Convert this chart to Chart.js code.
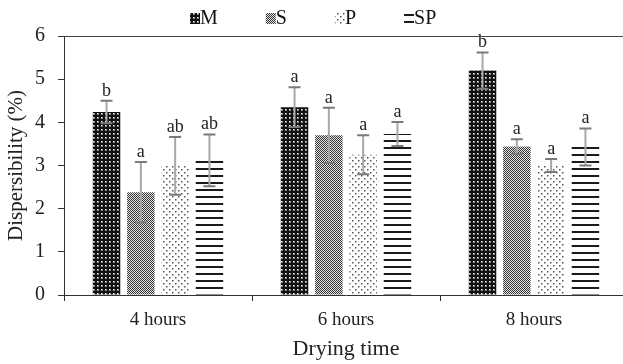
<!DOCTYPE html>
<html>
<head>
<meta charset="utf-8">
<script src="https://cdn.jsdelivr.net/npm/chart.js@4/dist/chart.umd.min.js"></script>
<style>
  html, body { margin: 0; padding: 0; background: #fff; overflow: hidden; }
  #wrap { width: 628px; height: 364px; }
</style>
</head>
<body>
<div id="wrap"><canvas id="c" width="628" height="364"></canvas></div>
<script>
// ---- data ----
const categories = ["4 hours", "6 hours", "8 hours"];
const seriesNames = ["M", "S", "P", "SP"];
const valuesM  = [4.24, 4.35, 5.20];
const valuesS  = [2.38, 3.70, 3.44];
const valuesP  = [2.99, 3.25, 3.00];
const valuesSP = [3.12, 3.73, 3.43];
const errM  = [0.26, 0.46, 0.42];
const errS  = [0.70, 0.64, 0.17];
const errP  = [0.67, 0.45, 0.15];
const errSP = [0.60, 0.28, 0.43];
const lettersM  = ["b", "a", "b"];
const lettersS  = ["a", "a", "a"];
const lettersP  = ["ab", "a", "a"];
const lettersSP = ["ab", "a", "a"];
const yTicks = [0, 1, 2, 3, 4, 5, 6];

// ---- patterns ----
function makePattern(w, h, draw) {
  const c = document.createElement('canvas');
  c.width = w; c.height = h;
  const g = c.getContext('2d');
  draw(g);
  return document.getElementById('c').getContext('2d').createPattern(c, 'repeat');
}
const patM = makePattern(4, 4, g => {
  g.fillStyle = '#111'; g.fillRect(0, 0, 4, 4);
  g.fillStyle = '#8a8a8a'; g.fillRect(1, 1, 2, 2);
  g.fillStyle = '#fff'; g.fillRect(1, 1, 1, 1);
});
const patS = makePattern(2, 2, g => {
  g.fillStyle = '#e6e6e6'; g.fillRect(0, 0, 2, 2);
  g.fillStyle = '#333'; g.fillRect(0, 0, 1, 1); g.fillRect(1, 1, 1, 1);
});
const patP = makePattern(6, 6, g => {
  g.fillStyle = '#fff'; g.fillRect(0, 0, 6, 6);
  g.fillStyle = '#555'; g.fillRect(1, 1, 1.5, 1.5); g.fillRect(4, 4, 1.5, 1.5);
});
const patSP = makePattern(4, 7, g => {
  g.fillStyle = '#fff'; g.fillRect(0, 0, 4, 7);
  g.fillStyle = '#1a1a1a'; g.fillRect(0, 0, 4, 2);
});

const valueSets = [valuesM, valuesS, valuesP, valuesSP];
const errSets = [errM, errS, errP, errSP];
const letterSets = [lettersM, lettersS, lettersP, lettersSP];
const patterns = [patM, patS, patP, patSP];

const datasets = seriesNames.map((name, i) => ({
  label: name,
  data: valueSets[i],
  errors: errSets[i],
  letters: letterSets[i],
  backgroundColor: patterns[i],
  borderWidth: 0,
  categoryPercentage: 0.73,
  barPercentage: 0.8
}));

const serif = "'Liberation Serif', 'Times New Roman', serif";

const errorBarPlugin = {
  id: 'errorBars',
  afterDatasetsDraw(chart) {
    const ctx = chart.ctx;
    const y = chart.scales.y;
    chart.data.datasets.forEach((ds, di) => {
      const meta = chart.getDatasetMeta(di);
      meta.data.forEach((bar, i) => {
        const v = ds.data[i], e = ds.errors[i];
        const top = y.getPixelForValue(v + e);
        const bot = y.getPixelForValue(v - e);
        const x = bar.x;
        ctx.save();
        ctx.strokeStyle = '#a8a8a8';
        ctx.lineWidth = 2;
        ctx.beginPath(); ctx.moveTo(x, top); ctx.lineTo(x, bot); ctx.stroke();
        ctx.strokeStyle = '#7a7a7a';
        ctx.beginPath();
        ctx.moveTo(x - 6, top); ctx.lineTo(x + 6, top);
        ctx.moveTo(x - 6, bot); ctx.lineTo(x + 6, bot);
        ctx.stroke();
        ctx.fillStyle = '#222';
        ctx.font = "18px " + serif;
        ctx.textAlign = 'center';
        ctx.textBaseline = 'alphabetic';
        ctx.fillText(ds.letters[i], x, top - 5);
        ctx.restore();
      });
    });
    // top frame line
    const a = chart.chartArea;
    ctx.save();
    ctx.strokeStyle = '#444';
    ctx.lineWidth = 1;
    ctx.beginPath();
    ctx.moveTo(a.left, a.top + 0.5); ctx.lineTo(a.right, a.top + 0.5);
    ctx.stroke();
    ctx.restore();
  }
};

// compact legend (box immediately followed by label), drawn from the dataset list
const legendPlugin = {
  id: 'compactLegend',
  afterDraw(chart) {
    const ctx = chart.ctx;
    ctx.save();
    ctx.font = "20px " + serif;
    ctx.textBaseline = 'middle';
    ctx.textAlign = 'left';
    let x = 190;
    const cy = 18;
    chart.data.datasets.forEach(ds => {
      ctx.fillStyle = ds.backgroundColor;
      ctx.fillRect(x, cy - 5, 10, 11);
      ctx.fillStyle = '#111';
      ctx.fillText(ds.label, x + 10, cy + 1);
      x += 10 + ctx.measureText(ds.label).width + 48;
    });
    ctx.restore();
  }
};

new Chart(document.getElementById('c'), {
  type: 'bar',
  data: { labels: categories, datasets },
  options: {
    responsive: false,
    animation: false,
    layout: { padding: { left: 0, right: 0, top: 36, bottom: 0 } },
    plugins: {
      legend: { display: false },
      tooltip: { enabled: false }
    },
    scales: {
      x: {
        grid: { display: true, drawOnChartArea: false, offset: true, tickLength: 6, color: '#333' },
        border: { color: '#333', width: 1 },
        ticks: { color: '#222', font: { family: serif, size: 19 }, padding: 8 },
        title: { display: true, text: 'Drying time', color: '#222', font: { family: serif, size: 22 }, padding: { top: 2, bottom: 2 } },
        afterFit(s) { s.height = 69; }
      },
      y: {
        min: 0, max: 6,
        afterBuildTicks(s) { s.ticks = yTicks.map(v => ({ value: v })); },
        grid: { display: true, drawOnChartArea: false, tickLength: 6, color: '#333' },
        border: { color: '#333', width: 1 },
        ticks: { color: '#222', font: { family: serif, size: 20 }, padding: 13 },
        title: { display: true, text: 'Dispersibility (%)', color: '#222', font: { family: serif, size: 21 }, padding: { top: 4, bottom: 0 } },
        afterFit(s) { s.width = 64; }
      }
    }
  },
  plugins: [errorBarPlugin, legendPlugin]
});
</script>
</body>
</html>
